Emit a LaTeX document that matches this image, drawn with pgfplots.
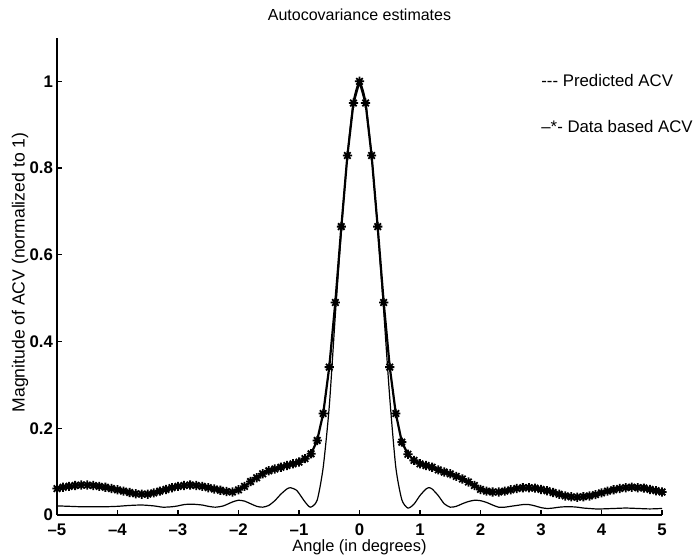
\documentclass[border=0pt]{standalone}
\usepackage{pgfplots}
\pgfplotsset{compat=1.18}
\usepackage{fontspec}
\setmainfont{Liberation Sans}
\pgfdeclareplotmark{ast8}{%
 \pgfpathmoveto{\pgfqpoint{-\pgfplotmarksize}{0pt}}\pgfpathlineto{\pgfqpoint{\pgfplotmarksize}{0pt}}%
 \pgfpathmoveto{\pgfqpoint{0pt}{-\pgfplotmarksize}}\pgfpathlineto{\pgfqpoint{0pt}{\pgfplotmarksize}}%
 \pgfpathmoveto{\pgfqpoint{-.707\pgfplotmarksize}{-.707\pgfplotmarksize}}\pgfpathlineto{\pgfqpoint{.707\pgfplotmarksize}{.707\pgfplotmarksize}}%
 \pgfpathmoveto{\pgfqpoint{-.707\pgfplotmarksize}{.707\pgfplotmarksize}}\pgfpathlineto{\pgfqpoint{.707\pgfplotmarksize}{-.707\pgfplotmarksize}}%
 \pgfusepathqstroke}
\begin{document}
\begin{tikzpicture}[x=1pt,y=1pt]
\path[use as bounding box] (0,0) rectangle (348.5,280);
\begin{axis}[
  at={(28.5pt,22.5pt)}, anchor=south west,
  scale only axis, width=302.5pt, height=238.5pt,
  xmin=-5, xmax=5, ymin=0, ymax=1.1,
  axis x line=bottom, axis y line=left,
  axis line style={-, line width=0.8pt},
  tick align=inside, major tick length=2.5pt,
  tick style={line width=0.6pt, black},
  xtick={-5,-4,-3,-2,-1,0,1,2,3,4,5},
  xticklabels={\textendash5,\textendash4,\textendash3,\textendash2,\textendash1,0,1,2,3,4,5},
  ytick={0,0.2,0.4,0.6,0.8,1},
  yticklabels={0,0.2,0.4,0.6,0.8,1},
  ticklabel style={font=\fontsize{8.4}{10}\selectfont\bfseries},
  yticklabel style={xshift=1.5pt},
  xticklabel style={yshift=-0.8pt},
  clip=false,
]
\addplot[black, line width=0.6pt, smooth, tension=0.4] coordinates {
(-5.0,0.021) (-4.8,0.020) (-4.6,0.019) (-4.4,0.019) (-4.2,0.019) (-4.0,0.020)
(-3.8,0.022) (-3.6,0.023) (-3.4,0.021) (-3.25,0.018) (-3.1,0.019) (-3.0,0.021)
(-2.9,0.024) (-2.77,0.025) (-2.6,0.023) (-2.5,0.020) (-2.38,0.018) (-2.25,0.021)
(-2.1,0.030) (-2.0,0.034) (-1.9,0.032) (-1.8,0.026) (-1.7,0.020) (-1.6,0.018)
(-1.5,0.022) (-1.4,0.033) (-1.3,0.048) (-1.2,0.060) (-1.14,0.063) (-1.05,0.058)
(-1.0,0.050) (-0.9,0.030) (-0.81,0.018) (-0.7,0.034) (-0.6,0.11) (-0.5,0.25)
(-0.4,0.46) (-0.3,0.655) (-0.2,0.83) (-0.1,0.955) (0,1.0)
(0.1,0.955) (0.2,0.83) (0.3,0.66) (0.4,0.47) (0.5,0.27) (0.6,0.11) (0.7,0.035)
(0.8,0.016) (0.9,0.025) (1.0,0.045) (1.1,0.060) (1.15,0.063) (1.2,0.060)
(1.3,0.045) (1.4,0.026) (1.5,0.018) (1.6,0.020) (1.7,0.026) (1.8,0.031)
(1.9,0.034) (2.0,0.033) (2.1,0.029) (2.2,0.023) (2.3,0.018) (2.4,0.018)
(2.5,0.020) (2.6,0.022) (2.7,0.024) (2.8,0.024) (2.9,0.021) (3.0,0.017)
(3.1,0.015) (3.2,0.016) (3.3,0.018) (3.4,0.019) (3.5,0.019) (3.6,0.018)
(3.7,0.016) (3.8,0.015) (3.9,0.014) (4.0,0.014) (4.2,0.015) (4.4,0.016)
(4.6,0.015) (4.8,0.014) (5.0,0.015)
};
\addplot[black, line width=1.1pt, mark=ast8, mark size=2.3pt,
  mark options={line width=0.9pt}] coordinates {
(-5.0,0.061) (-4.9,0.064) (-4.8,0.066) (-4.7,0.068) (-4.6,0.069) (-4.5,0.069)
(-4.4,0.068) (-4.3,0.066) (-4.2,0.064) (-4.1,0.061) (-4.0,0.058) (-3.9,0.055)
(-3.8,0.052) (-3.7,0.049) (-3.6,0.048) (-3.5,0.048) (-3.4,0.051) (-3.3,0.055)
(-3.2,0.059) (-3.1,0.063) (-3.0,0.066) (-2.9,0.068) (-2.8,0.069) (-2.7,0.068)
(-2.6,0.066) (-2.5,0.063) (-2.4,0.060) (-2.3,0.057) (-2.2,0.054) (-2.1,0.053)
(-2.0,0.058) (-1.9,0.066) (-1.8,0.077) (-1.7,0.086) (-1.6,0.095) (-1.5,0.102)
(-1.4,0.106) (-1.3,0.110) (-1.2,0.114) (-1.1,0.118) (-1.0,0.122) (-0.9,0.130)
(-0.8,0.141) (-0.7,0.172) (-0.6,0.234) (-0.5,0.341) (-0.4,0.49) (-0.3,0.665)
(-0.2,0.829) (-0.1,0.95) (0.0,1.0)
(0.1,0.95) (0.2,0.829) (0.3,0.665) (0.4,0.49) (0.5,0.341) (0.6,0.234)
(0.7,0.168) (0.8,0.140) (0.9,0.126) (1.0,0.118) (1.1,0.114) (1.2,0.110)
(1.3,0.104) (1.4,0.099) (1.5,0.095) (1.6,0.089) (1.7,0.083) (1.8,0.076)
(1.9,0.068) (2.0,0.059) (2.1,0.055) (2.2,0.053) (2.3,0.053) (2.4,0.055)
(2.5,0.058) (2.6,0.061) (2.7,0.063) (2.8,0.063) (2.9,0.062) (3.0,0.059)
(3.1,0.056) (3.2,0.052) (3.3,0.048) (3.4,0.044) (3.5,0.042) (3.6,0.041)
(3.7,0.042) (3.8,0.044) (3.9,0.047) (4.0,0.051) (4.1,0.055) (4.2,0.058)
(4.3,0.061) (4.4,0.063) (4.5,0.064) (4.6,0.063) (4.7,0.062) (4.8,0.059)
(4.9,0.056) (5.0,0.053)
};
\end{axis}
\node[font=\fontsize{8}{10}\selectfont] at (179.75,272.5) {Autocovariance estimates};
\node[font=\fontsize{8.2}{10}\selectfont] at (179.75,6.2) {Angle (in degrees)};
\node[font=\fontsize{8.8}{10}\selectfont, rotate=90] at (10,143.75) {Magnitude of ACV (normalized to 1)};
\node[font=\fontsize{8.4}{10}\selectfont, anchor=west, inner sep=0pt] at (270.5,239.6) {{-}{-}{-} Predicted ACV};
\node[font=\fontsize{8.4}{10}\selectfont, anchor=west, inner sep=0pt] at (270.5,216.7) {\textendash*{-} Data based ACV};
\end{tikzpicture}
\end{document}
